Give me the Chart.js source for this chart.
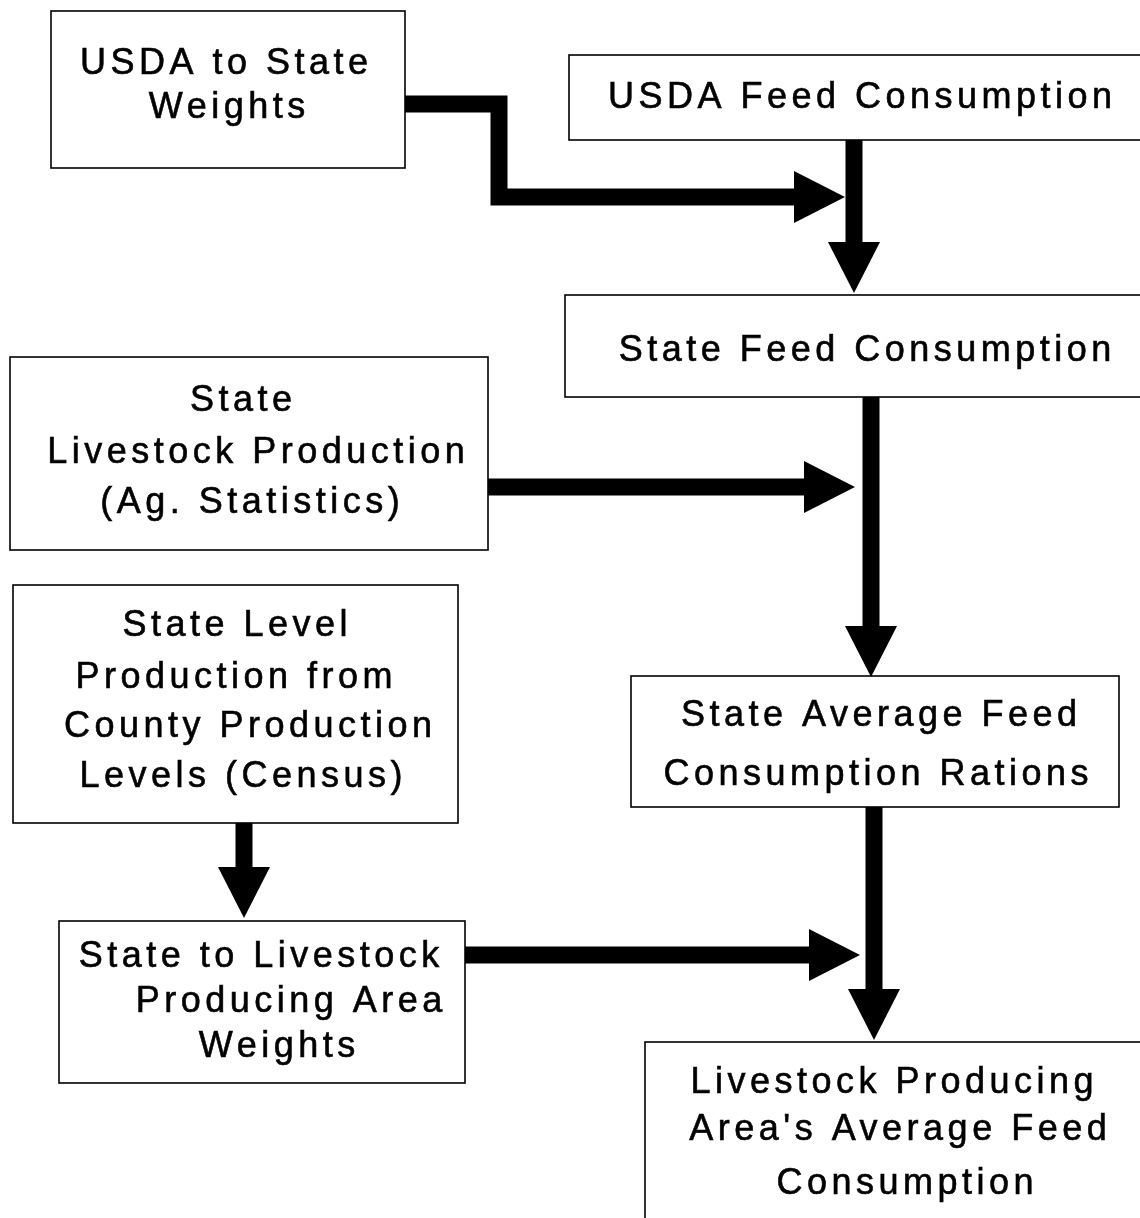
<!DOCTYPE html>
<html>
<head>
<meta charset="utf-8">
<script src="https://cdn.jsdelivr.net/npm/chart.js@4.4.0/dist/chart.umd.min.js"></script>
<style>
  html, body { margin: 0; padding: 0; background: #fff; }
  #wrap { width: 1140px; height: 1218px; position: relative; }
</style>
</head>
<body>
<div id="wrap"><canvas id="flow"></canvas></div>
<script>
// Box texts (one array of lines per node)
const nodeLabels = [
    ['USDA to State', 'Weights'],
    ['USDA Feed Consumption'],
    ['State Feed Consumption'],
    ['State', 'Livestock Production', '(Ag. Statistics)'],
    ['State Level', 'Production from', 'County Production', 'Levels (Census)'],
    ['State Average Feed', 'Consumption Rations'],
    ['State to Livestock', 'Producing Area', 'Weights'],
    ['Livestock Producing', "Area's Average Feed", 'Consumption']
];

// Which node feeds which (from -> to)
const flowFrom = [0, 1, 2, 3, 4, 6, 5];
const flowTo   = [1, 2, 5, 2, 6, 7, 7];

// Layout (in the chart's 0..1140 x 0..1218 value space)
const boxes = [
    { x0: 51,  x1: 405,  y0: 11,   y1: 168,  cx: [224, 227],           ly: [62, 106] },
    { x0: 569, x1: 1145, y0: 55,   y1: 140,  cx: [860],                ly: [96] },
    { x0: 565, x1: 1145, y0: 295,  y1: 397,  cx: [865],                ly: [349] },
    { x0: 10,  x1: 488,  y0: 357,  y1: 550,  cx: [241, 256, 250],      ly: [399, 451, 501] },
    { x0: 13,  x1: 458,  y0: 585,  y1: 823,  cx: [235, 234, 248, 241], ly: [624, 676, 725, 775] },
    { x0: 631, x1: 1119, y0: 676,  y1: 807,  cx: [879, 876],           ly: [714, 773] },
    { x0: 59,  x1: 465,  y0: 921,  y1: 1083, cx: [259, 289, 277],      ly: [955, 1000, 1045] },
    { x0: 645, x1: 1145, y0: 1042, y1: 1230, cx: [892, 898, 905],      ly: [1081, 1128, 1182] }
];

const arrowPaths = [
    [[405, 104], [499, 104], [499, 197], [845, 197]],
    [[854, 140], [854, 293]],
    [[871, 397], [871, 677]],
    [[488, 487], [855, 487]],
    [[244, 823], [244, 918]],
    [[465, 955], [860, 955]],
    [[874, 807], [874, 1040]]
];

const flowPlugin = {
    id: 'flowPlugin',
    afterDatasetsDraw(chart) {
        const ctx = chart.ctx;
        const xs = chart.scales.x, ys = chart.scales.y;
        const px = v => xs.getPixelForValue(v);
        const py = v => ys.getPixelForValue(v);

        ctx.save();
        // boxes
        ctx.strokeStyle = '#000';
        ctx.lineWidth = 1.6;
        boxes.forEach(b => {
            ctx.strokeRect(px(b.x0), py(b.y0), px(b.x1) - px(b.x0), py(b.y1) - py(b.y0));
        });

        // text
        const spacing = 4.5;
        ctx.fillStyle = '#000';
        ctx.font = '36px "Liberation Sans", Arial, sans-serif';
        ctx.textAlign = 'center';
        ctx.textBaseline = 'middle';
        ctx.letterSpacing = spacing + 'px';
        ctx.lineWidth = 0.6;
        nodeLabels.forEach((lines, i) => {
            const b = boxes[i];
            lines.forEach((t, j) => {
                const tx = px(b.cx[j]) + spacing / 2, ty = py(b.ly[j]) + 2.5;
                ctx.fillText(t, tx, ty);
                ctx.strokeText(t, tx, ty);
            });
        });
        ctx.letterSpacing = '0px';

        // arrows
        const headLen = 51, headHalf = 26;
        arrowPaths.forEach(path => {
            const n = path.length;
            const tip = path[n - 1], prev = path[n - 2];
            const dx = Math.sign(tip[0] - prev[0]), dy = Math.sign(tip[1] - prev[1]);
            const base = [tip[0] - dx * headLen, tip[1] - dy * headLen];

            ctx.beginPath();
            ctx.lineWidth = 17;
            ctx.lineJoin = 'miter';
            ctx.lineCap = 'butt';
            ctx.moveTo(px(path[0][0]), py(path[0][1]));
            for (let k = 1; k < n - 1; k++) ctx.lineTo(px(path[k][0]), py(path[k][1]));
            ctx.lineTo(px(base[0] + dx * 2), py(base[1] + dy * 2));
            ctx.stroke();

            ctx.beginPath();
            ctx.moveTo(px(tip[0]), py(tip[1]));
            ctx.lineTo(px(base[0] - dy * headHalf), py(base[1] + dx * headHalf));
            ctx.lineTo(px(base[0] + dy * headHalf), py(base[1] - dx * headHalf));
            ctx.closePath();
            ctx.fill();
        });
        ctx.restore();
    }
};

// invisible anchor points at node centres, so the scales have data
const centers = boxes.map(b => ({ x: (b.x0 + b.x1) / 2, y: (b.y0 + b.y1) / 2 }));

new Chart(document.getElementById('flow'), {
    type: 'scatter',
    data: {
        datasets: [{
            label: 'nodes',
            data: centers,
            pointRadius: 0,
            pointHoverRadius: 0
        }]
    },
    options: {
        responsive: true,
        maintainAspectRatio: false,
        animation: false,
        layout: { padding: 0 },
        plugins: { legend: { display: false }, tooltip: { enabled: false } },
        events: [],
        scales: {
            x: { type: 'linear', min: 0, max: 1140, display: false },
            y: { type: 'linear', min: 0, max: 1218, reverse: true, display: false }
        }
    },
    plugins: [flowPlugin]
});
</script>
</body>
</html>
